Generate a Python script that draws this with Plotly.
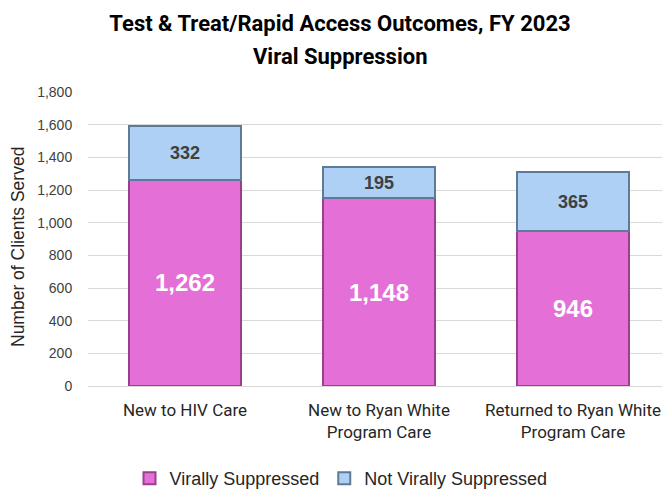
import plotly.graph_objects as go

categories = ["New to HIV Care", "New to Ryan White<br>Program Care", "Returned to Ryan White<br>Program Care"]
suppressed = [1262, 1148, 946]
not_suppressed = [332, 195, 365]
tick_vals = [0, 200, 400, 600, 800, 1000, 1200, 1400, 1600, 1800]
tick_text = ["0", "200", "400", "600", "800", "1,000", "1,200", "1,400", "1,600", "1,800"]

narrow = "Liberation Sans Narrow, Arial Narrow, Roboto, sans-serif"
sans = "Liberation Sans, Arial, sans-serif"

W, H = 662, 481
L, R, T, B = 80, 0, 84, 103
PH = H - T - B
PW = W - L - R

fig = go.Figure()
fig.add_trace(go.Bar(
    x=categories, y=suppressed, name="Virally Suppressed",
    marker=dict(color="#E46FD7", line=dict(color="#9A3E8E", width=2)),
    text=[f"{v:,}" for v in suppressed], textposition="inside",
    insidetextanchor="middle", textangle=0,
    textfont=dict(color="white", size=24, family=sans, weight="bold"),
))
fig.add_trace(go.Bar(
    x=categories, y=not_suppressed, name="Not Virally Suppressed",
    marker=dict(color="#ADD0F4", line=dict(color="#5F7A96", width=2)),
    text=[f"{v:,}" for v in not_suppressed], textposition="inside",
    insidetextanchor="middle", textangle=0,
    textfont=dict(color="#404040", size=18, family=sans, weight="bold"),
))

fig.update_layout(
    barmode="stack",
    bargap=0.425,
    width=W, height=H,
    margin=dict(l=L, r=R, t=T, b=B, autoexpand=False),
    paper_bgcolor="white", plot_bgcolor="white",
    title=dict(
        text="<b>Test & Treat/Rapid Access Outcomes, FY 2023</b>",
        x=332 / W, xanchor="center", xref="container",
        y=1 - 15 / H, yanchor="middle", yref="container",
        font=dict(size=22, color="#000000", family=narrow),
    ),
    legend=dict(
        orientation="h", x=(333 - L) / PW, xanchor="center",
        y=-(452 - (T + PH)) / PH, yanchor="top",
        font=dict(size=18, color="#262626", family=sans),
        traceorder="normal",
    ),
    showlegend=True,
)
fig.add_annotation(
    text="<b>Viral Suppression</b>", showarrow=False,
    x=(332 - L) / PW, xref="paper", xanchor="center",
    y=((T + PH) - 48) / PH, yref="paper", yanchor="middle",
    font=dict(size=22, color="#000000", family=narrow),
)
fig.add_annotation(
    text="Number of Clients Served", showarrow=False, textangle=-90,
    x=(10 - L) / PW, xref="paper", xanchor="center",
    y=((T + PH) - 239) / PH, yref="paper", yanchor="middle",
    font=dict(size=17.5, color="#262626", family=sans),
)
fig.update_xaxes(
    range=[-0.5, 2.5], showgrid=False, showline=False, ticks="",
    tickangle=0, ticklabelstandoff=12,
    tickfont=dict(size=17, color="#262626", family=narrow),
)
fig.update_yaxes(
    range=[0, 1800], tickvals=tick_vals, ticktext=tick_text,
    showgrid=True, gridcolor="#D9D9D9", gridwidth=1,
    zeroline=True, zerolinecolor="#D9D9D9", zerolinewidth=1,
    tickfont=dict(size=14, color="#404040", family=sans),
    ticks="outside", ticklen=12, tickcolor="white",
)

fig.write_html("out.html")
